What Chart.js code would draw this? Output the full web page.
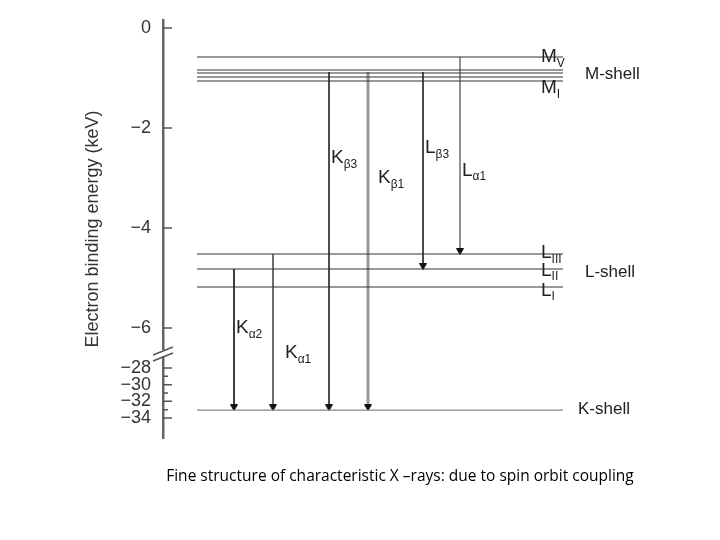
<!DOCTYPE html>
<html>
<head>
<meta charset="utf-8">
<script src="https://cdn.jsdelivr.net/npm/chart.js@4"></script>
<style>
  body { margin: 0; background: #fff; }
  #wrap { width: 720px; height: 540px; }
</style>
</head>
<body>
<div id="wrap"><canvas id="c"></canvas></div>
<script>
// energy levels (keV)
const levelNames = ['MV', 'M4', 'M3', 'M2', 'MI', 'LIII', 'LII', 'LI', 'K'];
const levelEnergies = [-0.58, -0.84, -0.9, -0.98, -1.06, -4.52, -4.82, -5.18, -33.05];
const levelStartX = 197, levelEndX = 563;

// transitions: name, subscript, from energy, to energy, x position
const transNames = ['K', 'K', 'K', 'K', 'L', 'L'];
const transSubs = ['\u03b12', '\u03b11', '\u03b23', '\u03b21', '\u03b23', '\u03b11'];
const transFrom = [-4.82, -4.52, -0.88, -0.88, -0.88, -0.58];
const transTo = [-33.05, -33.05, -33.05, -33.05, -4.82, -4.52];
const transX = [234, 273, 329, 368, 423, 460];
const transWidth = [1, 1.3, 1, 3, 1, 1.6];
const transColor = ['#222', '#222', '#333', '#999', '#333', '#777'];

// axis ticks
const tickValues = [0, -2, -4, -6, -28, -30, -32, -34];
const minorLower = [-29, -31, -33];

// broken axis: upper part 0..-6.5 linear, lower part compressed
function toAxis(e) {
  if (e > -10) return e;
  return -6.8 + (e + 28) / 6;
}
function fromAxis(d) {
  if (d > -6.6) return d;
  return Math.round(-28 + (d + 6.8) * 6);
}

const datasets = [];
levelEnergies.forEach((e, i) => {
  datasets.push({
    data: [{x: levelStartX, y: toAxis(e)}, {x: levelEndX, y: toAxis(e)}],
    borderColor: i === 8 ? '#888' : '#333',
    borderWidth: 1.2,
    pointRadius: 0
  });
});
transNames.forEach((n, i) => {
  datasets.push({
    data: [{x: transX[i], y: toAxis(transFrom[i])}, {x: transX[i], y: toAxis(transTo[i]) + 0.07}],
    borderColor: transColor[i],
    borderWidth: transWidth[i],
    pointRadius: [0, 4],
    pointBorderWidth: 1,
    pointStyle: 'triangle',
    rotation: 180,
    pointBackgroundColor: '#111',
    pointBorderColor: '#111'
  });
});

// text labels: [text, sub, x, energy]
const levelLabels = [
  ['M', 'V', 541, -0.58], ['M', 'I', 541, -1.2],
  ['L', 'III', 541, -4.5], ['L', 'II', 541, -4.85], ['L', 'I', 541, -5.25]
];
const shellLabels = [['M-shell', 585, -0.92], ['L-shell', 585, -4.88], ['K-shell', 578, -33.0]];
const transLabelPos = [[236, -6.0], [285, -6.5], [331, -2.6], [378, -3.0], [425, -2.4], [462, -2.85]];

const drawText = {
  id: 'drawText',
  afterDraw(chart) {
    const ctx = chart.ctx, ys = chart.scales.y;
    const font = '"Liberation Sans", Arial, sans-serif';
    ctx.save();
    ctx.fillStyle = '#222';
    ctx.textBaseline = 'middle';
    ctx.textAlign = 'left';
    function sub(main, s, x, y, size) {
      ctx.font = size + 'px ' + font;
      ctx.fillText(main, x, y);
      const w = ctx.measureText(main).width;
      ctx.font = Math.round(size * 0.62) + 'px ' + font;
      ctx.fillText(s, x + w, y + size * 0.35);
    }
    levelLabels.forEach(l => sub(l[0], l[1], l[2], ys.getPixelForValue(toAxis(l[3])), 19));
    ctx.font = '17px ' + font;
    shellLabels.forEach(l => ctx.fillText(l[0], l[1], ys.getPixelForValue(toAxis(l[2]))));
    transNames.forEach((n, i) => {
      const p = transLabelPos[i];
      sub(n, transSubs[i], p[0], ys.getPixelForValue(toAxis(p[1])), 19);
    });
    // axis tick marks (drawn inward) and break mark
    const ax = chart.chartArea.left;
    ctx.strokeStyle = '#555';
    ctx.lineWidth = 1.5;
    ctx.beginPath();
    tickValues.forEach(v => {
      const y = ys.getPixelForValue(toAxis(v));
      ctx.moveTo(ax, y); ctx.lineTo(ax + 9, y);
    });
    minorLower.forEach(v => {
      const y = ys.getPixelForValue(toAxis(v));
      ctx.moveTo(ax, y); ctx.lineTo(ax + 5, y);
    });
    ctx.stroke();
    const by = ys.getPixelForValue(-6.5);
    ctx.fillStyle = '#fff';
    ctx.fillRect(ax - 3, by - 3, 6, 6);
    ctx.beginPath();
    ctx.moveTo(ax - 10, by + 2); ctx.lineTo(ax + 10, by - 6);
    ctx.moveTo(ax - 10, by + 8); ctx.lineTo(ax + 10, by);
    ctx.stroke();
    // caption
    ctx.fillStyle = '#000';
    ctx.textAlign = 'center';
    ctx.font = '15.5px "Open Sans", sans-serif';
    ctx.fillText('Fine structure of characteristic X \u2013rays: due to spin orbit coupling', 400, 477);
    ctx.restore();
  }
};

new Chart(document.getElementById('c'), {
  type: 'line',
  data: { datasets },
  options: {
    responsive: true,
    maintainAspectRatio: false,
    animation: false,
    layout: { padding: { top: 20, right: 20, bottom: 102, left: 78 } },
    plugins: { legend: { display: false }, tooltip: { enabled: false } },
    scales: {
      x: { type: 'linear', min: 163, max: 700, display: false },
      y: {
        type: 'linear', min: -8.2, max: 0.16,
        afterFit: s => { s.width = 85; },
        afterBuildTicks: s => { s.ticks = tickValues.map(v => ({ value: toAxis(v) })); },
        grid: { display: false },
        border: { display: true, color: '#666', width: 2.5 },
        ticks: {
          color: '#333',
          padding: 4,
          font: { family: '"Liberation Sans", Arial, sans-serif', size: 18 },
          callback: v => { const e = fromAxis(v); return e === 0 ? '0' : '\u2212' + Math.abs(e); }
        },
        title: {
          display: true,
          text: 'Electron binding energy (keV)',
          color: '#333',
          font: { family: '"Liberation Sans", Arial, sans-serif', size: 18 },
          padding: { bottom: 0 }
        }
      }
    }
  },
  plugins: [drawText]
});
</script>
</body>
</html>
